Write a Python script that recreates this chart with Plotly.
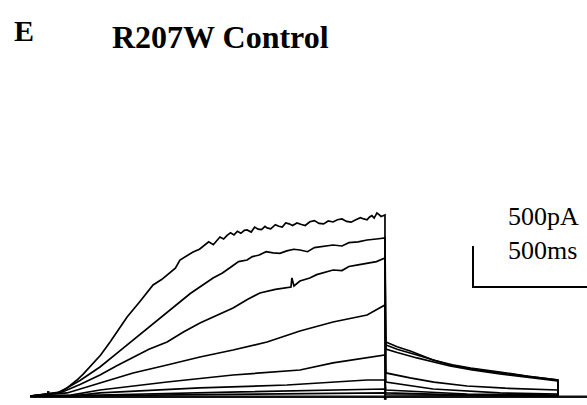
import plotly.graph_objects as go

# time in ms, current in pA
t1 = [-117, 0, 40, 87, 115, 144, 190, 231, 270, 305, 360, 418, 455, 492, 515, 535, 560, 592, 620, 640, 660, 680, 709, 725, 740, 755, 770, 785, 800, 815, 827, 845, 860, 875, 890, 905, 914, 930, 950, 965, 980, 995, 1010, 1025, 1044, 1060, 1080, 1100, 1120, 1140, 1160, 1180, 1201, 1220, 1240, 1260, 1280, 1300, 1320, 1335, 1349, 1360, 1370, 1380, 1392, 1400, 1410, 1427,
      1427, 1431, 1480, 1540, 1636, 1720, 1800, 1927, 2050, 2179, 2180]
i1 = [0, 37, 90, 195, 270, 354, 500, 659, 820, 964, 1150, 1354, 1420, 1501, 1560, 1659, 1700, 1757, 1790, 1830, 1880, 1845, 1940, 1915, 1960, 1990, 1965, 2010, 1985, 2020, 2025, 2000, 2060, 2035, 2030, 2070, 2050, 2040, 2090, 2070, 2060, 2110, 2100, 2080, 2111, 2095, 2080, 2125, 2140, 2105, 2100, 2135, 2123, 2150, 2160, 2130, 2120, 2150, 2175, 2160, 2150, 2185, 2200, 2170, 2233, 2215, 2190, 2208,
      -40, 659, 600, 545, 439, 380, 340, 293, 240, 195, 0]
t2 = [-117, 13, 100, 187, 260, 331, 400, 479, 580, 679, 720, 760, 790, 827, 850, 880, 910, 940, 970, 1000, 1030, 1057, 1090, 1120, 1150, 1201, 1240, 1270, 1310, 1349, 1390, 1427,
      1431, 1480, 1566, 1710, 1800, 1927, 2179, 2180]
i2 = [0, 49, 190, 354, 520, 683, 840, 1013, 1250, 1440, 1500, 1580, 1640, 1659, 1700, 1720, 1760, 1745, 1740, 1770, 1790, 1781, 1760, 1810, 1820, 1842, 1830, 1870, 1880, 1903, 1915, 1928,
      622, 570, 500, 378, 330, 281, 195, 0]
t3 = [-117, 13, 100, 187, 260, 331, 400, 479, 550, 622, 700, 766, 830, 883, 950, 1001, 1018, 1022, 1031, 1057, 1100, 1130, 1170, 1201, 1240, 1270, 1310, 1349, 1390, 1427,
      1431, 1480, 1566, 1710, 1800, 1927, 2179, 2180]
i3 = [0, 37, 140, 256, 370, 476, 570, 659, 780, 891, 990, 1074, 1180, 1257, 1300, 1318, 1330, 1440, 1342, 1403, 1440, 1480, 1510, 1537, 1530, 1580, 1600, 1623, 1640, 1684,
      573, 530, 464, 366, 320, 268, 183, 0]
t4 = [-117, 44, 187, 331, 479, 622, 766, 914, 1057, 1201, 1349, 1418, 1427,
      1431, 1536, 1640, 1784, 1950, 2179, 2180]
i4 = [0, 37, 159, 281, 378, 476, 561, 659, 793, 903, 988, 1098, 1110,
      281, 220, 170, 122, 95, 73, 0]
t5 = [-117, 60, 187, 479, 766, 1057, 1201, 1418, 1427,
      1431, 1636, 1927, 2179, 2180]
i5 = [0, 10, 73, 171, 256, 317, 403, 500, 500,
      171, 85, 37, 24, 0]
t6 = [-117, 80, 187, 622, 1001, 1349, 1427,
      1431, 1784, 2179, 2180]
i6 = [0, 5, 37, 98, 134, 195, 195,
      73, 24, 12, 0]
t7 = [-117, 100, 187, 800, 1427, 1431, 1800, 2180]
i7 = [0, 4, 12, 50, 85, 37, 10, 0]
t8 = [-117, 187, 1427, 1431, 2180]
i8 = [0, 5, 37, 15, 0]
base_t = [-117, -40, -38, -36, 0, 1427, 1428, 1431, 2340]
base_i = [-10, -10, 60, -10, -10, -10, -45, -10, -10]

traces = [(t1, i1), (t2, i2), (t3, i3), (t4, i4), (t5, i5), (t6, i6), (t7, i7), (t8, i8)]

scale_t = [1810, 1810, 2340]
scale_i = [1830, 1330, 1330]

fig = go.Figure()
fig.add_trace(go.Scatter(x=base_t, y=base_i, mode="lines",
                         line=dict(color="#111", width=2.5), hoverinfo="skip"))
for t, i in traces:
    fig.add_trace(go.Scatter(x=t, y=i, mode="lines",
                             line=dict(color="#000", width=1.7), hoverinfo="skip"))
fig.add_trace(go.Scatter(x=scale_t, y=scale_i, mode="lines",
                         line=dict(color="#000", width=2), hoverinfo="skip"))

W, H = 587, 405
def px(x): return x / W
def py(y): return 1 - y / H

fig.add_annotation(x=px(12), y=py(30), xref="paper", yref="paper", text="<b>E</b>",
                   showarrow=False, xanchor="left", yanchor="middle",
                   font=dict(family="Liberation Serif", size=30, color="#000"))
fig.add_annotation(x=px(110), y=py(37), xref="paper", yref="paper", text="<b>R207W Control</b>",
                   showarrow=False, xanchor="left", yanchor="middle",
                   font=dict(family="Liberation Serif", size=32, color="#000"))
fig.add_annotation(x=px(507), y=py(216.5), xref="paper", yref="paper", text="500pA",
                   showarrow=False, xanchor="left", yanchor="middle", borderpad=0,
                   font=dict(family="Liberation Serif", size=26, color="#000"))
fig.add_annotation(x=px(507), y=py(250.5), xref="paper", yref="paper", text="500ms",
                   showarrow=False, xanchor="left", yanchor="middle", borderpad=0,
                   font=dict(family="Liberation Serif", size=26, color="#000"))

fig.update_layout(width=W, height=H, margin=dict(l=0, r=0, t=0, b=0),
                  paper_bgcolor="white", plot_bgcolor="white", showlegend=False,
                  xaxis=dict(range=[-248, 2306], visible=False, fixedrange=True),
                  yaxis=dict(range=[-110, 4831], visible=False, fixedrange=True))
fig.write_html("out.html", config={"displayModeBar": False, "staticPlot": True},
               post_script="document.body.style.margin='0';document.body.style.overflow='hidden';")
